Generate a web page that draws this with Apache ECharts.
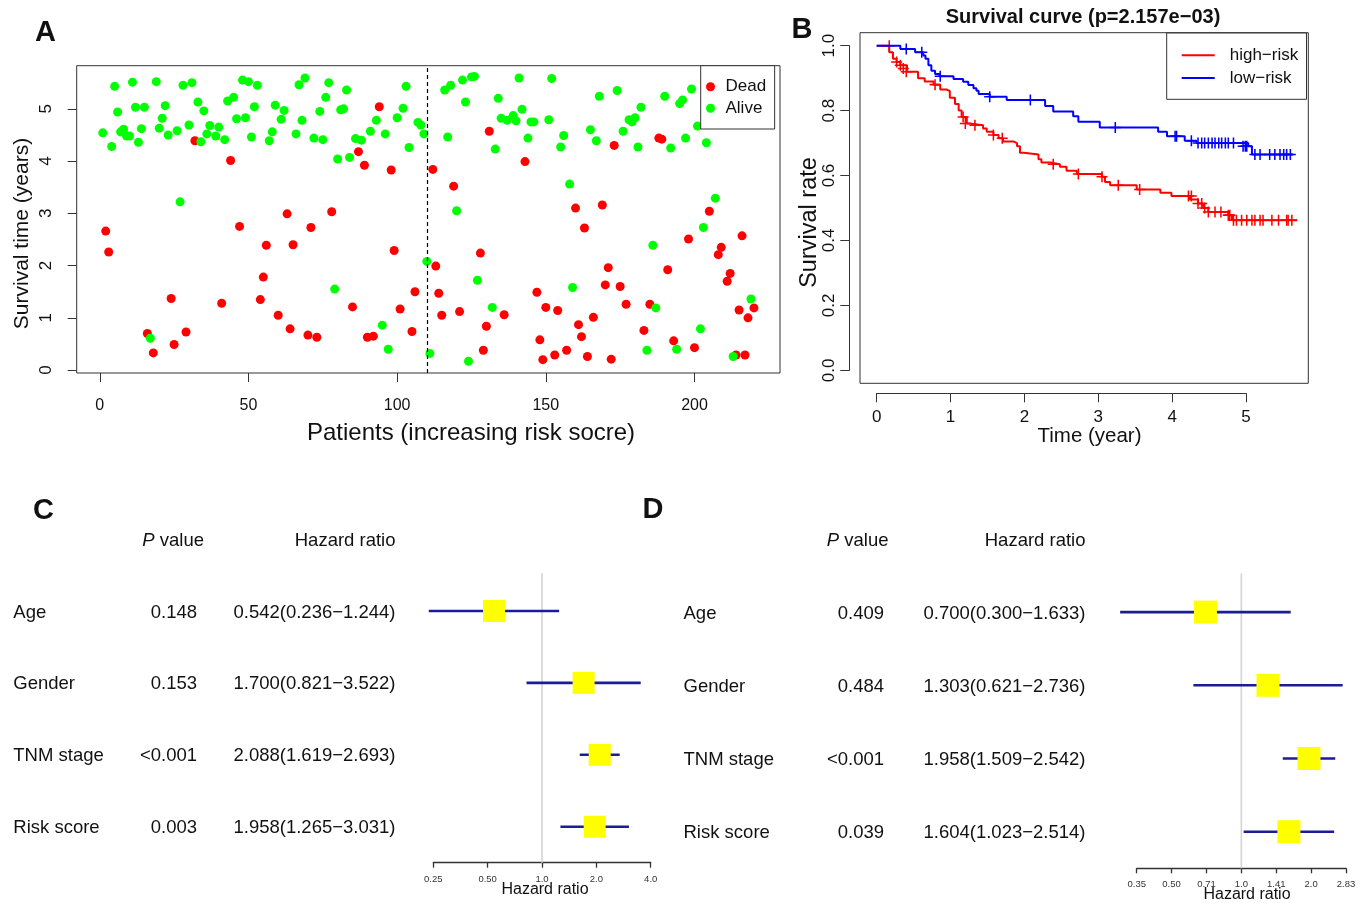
<!DOCTYPE html>
<html><head><meta charset="utf-8">
<script src="https://cdn.jsdelivr.net/npm/echarts@6/dist/echarts.min.js"></script>
<style>html,body{margin:0;padding:0;background:#fff}#chart{width:1364px;height:903px}</style>
</head><body><div id="chart"></div>
<script>
// ---------------- Panel A: [patient rank, survival time (years)] ----------------
const deadPoints = [
[2,2.66],[3,2.26],[16,0.70],[18,0.33],[24,1.37],[25,0.49],[29,0.73],[32,4.39],[41,1.28],[44,4.01],
[47,2.75],[54,1.35],[55,1.78],[56,2.39],[60,1.05],[63,2.99],[64,0.79],[65,2.40],[70,0.67],[71,2.73],
[73,0.63],[78,3.03],[85,1.21],[87,4.18],[89,3.92],[90,0.63],[92,0.65],[94,5.04],[98,3.83],[99,2.29],
[101,1.17],[105,0.74],[106,1.50],[112,3.84],[113,1.99],[114,1.47],[115,1.05],[119,3.52],[121,1.12],[128,2.24],
[129,0.38],[130,0.84],[131,4.57],[136,1.06],[143,3.99],[147,1.49],[148,0.58],[149,0.20],[150,1.20],[153,0.29],
[154,1.14],[157,0.38],[160,3.10],[161,0.87],[162,0.64],[163,2.72],[164,0.26],[166,1.01],[169,3.16],[170,1.63],
[171,1.96],[172,0.21],[173,4.30],[175,1.60],[177,1.26],[183,0.76],[185,1.26],[188,4.44],[189,4.42],[191,1.92],
[193,0.56],[198,2.51],[200,0.43],[205,3.04],[208,2.21],[209,2.35],[211,1.70],[212,1.85],[214,0.29],[215,1.15],
[216,2.57],[217,0.29],[218,1.00],[220,1.19]
];
const alivePoints = [
[1,4.54],[4,4.28],[5,5.43],[6,4.94],[7,4.56],[8,4.61],[9,4.48],[10,4.48],[11,5.51],[12,5.03],
[13,4.36],[14,4.62],[15,5.03],[17,0.61],[19,5.52],[20,4.63],[21,4.82],[22,5.06],[23,4.50],[26,4.58],
[27,3.22],[28,5.45],[30,4.69],[31,5.50],[33,5.13],[34,4.37],[35,4.96],[36,4.52],[37,4.68],[39,4.48],
[40,4.65],[42,4.41],[43,5.15],[45,5.22],[46,4.81],[48,5.55],[49,4.83],[50,5.52],[51,4.46],[52,5.04],
[53,5.45],[57,4.39],[58,4.56],[59,5.07],[61,4.80],[62,4.97],[66,4.52],[67,5.46],[68,4.78],[69,5.59],
[72,4.44],[74,4.95],[75,4.41],[76,5.22],[77,5.50],[79,1.55],[80,4.04],[81,4.98],[82,5.00],[83,5.36],
[84,4.07],[86,4.43],[88,4.40],[91,4.57],[93,4.78],[95,0.86],[96,4.52],[97,0.40],[100,4.83],[102,5.01],
[103,5.43],[104,4.26],[107,4.74],[108,4.69],[109,4.52],[110,2.08],[111,0.32],[116,5.36],[117,4.46],[118,5.45],
[120,3.05],[122,5.55],[123,5.13],[124,0.17],[125,5.61],[126,5.62],[127,1.72],[132,1.20],[133,4.23],[134,5.20],
[135,4.82],[137,4.78],[139,4.87],[140,4.77],[141,5.59],[142,4.99],[144,4.44],[145,4.75],[146,4.75],[151,4.79],
[152,5.58],[155,4.27],[156,4.49],[158,3.56],[159,1.58],[165,4.60],[167,4.39],[168,5.24],[174,5.35],[176,4.57],
[178,4.79],[179,4.75],[180,4.83],[181,4.27],[182,5.03],[184,0.38],[186,2.39],[187,1.19],[190,5.24],[192,4.25],
[194,0.40],[195,5.10],[196,5.17],[197,4.44],[199,5.38],[201,4.67],[202,0.79],[203,2.73],[204,4.35],[207,3.29],
[213,0.26],[219,1.36]
];
const riskCutoff = 110;
const patientTicks = [0, 50, 100, 150, 200];
const yearTicks = [0, 1, 2, 3, 4, 5];

// ---------------- Panel B: Kaplan-Meier steps [time (year), survival] ----------------
const highRiskCurve = [
[0,1.0],[0.17,0.98],[0.22,0.96],[0.27,0.95],[0.32,0.94],[0.41,0.92],[0.56,0.90],[0.65,0.89],[0.77,0.88],[0.86,0.865],
[0.95,0.86],[0.99,0.84],[1.06,0.82],[1.11,0.80],[1.15,0.78],[1.22,0.76],[1.26,0.755],[1.44,0.745],[1.49,0.735],[1.58,0.725],
[1.65,0.715],[1.71,0.705],[1.85,0.70],[1.90,0.69],[1.94,0.67],[1.99,0.665],[2.19,0.65],[2.23,0.64],[2.35,0.635],[2.48,0.627],
[2.57,0.615],[2.71,0.605],[3.05,0.596],[3.09,0.58],[3.16,0.57],[3.52,0.557],[3.84,0.547],[3.99,0.537],[4.24,0.526],[4.35,0.514],
[4.42,0.50],[4.49,0.488],[4.76,0.478],[4.81,0.462],[5.69,0.462]
];
const lowRiskCurve = [
[0,1.0],[0.32,0.99],[0.52,0.98],[0.63,0.97],[0.66,0.96],[0.70,0.94],[0.74,0.923],[0.79,0.913],[0.85,0.906],[1.04,0.897],
[1.17,0.889],[1.24,0.879],[1.31,0.869],[1.35,0.861],[1.38,0.851],[1.53,0.843],[1.76,0.833],[2.28,0.814],[2.39,0.797],[2.66,0.783],
[2.73,0.766],[3.02,0.748],[3.81,0.735],[3.93,0.721],[4.17,0.707],[4.33,0.70],[5.03,0.69],[5.08,0.665],[5.64,0.665]
];
const highRiskCensor = [
[0.17,1.0],[0.27,0.95],[0.32,0.94],[0.36,0.93],[0.40,0.92],[0.79,0.88],[1.17,0.78],[1.20,0.76],[1.33,0.755],[1.58,0.725],
[1.70,0.715],[2.39,0.635],[2.73,0.605],[3.05,0.596],[3.27,0.57],[3.56,0.557],[4.22,0.537],[4.26,0.537],[4.35,0.514],[4.40,0.514],
[4.44,0.50],[4.49,0.488],[4.58,0.488],[4.66,0.488],[4.76,0.478],[4.78,0.478],[4.83,0.462],[4.87,0.462],[4.94,0.462],[5.01,0.462],
[5.08,0.462],[5.12,0.462],[5.19,0.462],[5.23,0.462],[5.35,0.462],[5.44,0.462],[5.55,0.462],[5.57,0.462],[5.62,0.462]
];
const lowRiskCensor = [
[0.40,0.99],[0.61,0.98],[0.86,0.906],[1.53,0.843],[2.08,0.833],[3.23,0.748],[4.04,0.721],[4.06,0.721],[4.26,0.707],[4.35,0.70],
[4.40,0.70],[4.44,0.70],[4.49,0.70],[4.54,0.70],[4.58,0.70],[4.63,0.70],[4.67,0.70],[4.72,0.70],[4.76,0.70],[4.83,0.70],
[4.96,0.69],[4.99,0.69],[5.01,0.69],[5.12,0.665],[5.19,0.665],[5.32,0.665],[5.39,0.665],[5.46,0.665],[5.51,0.665],[5.55,0.665],[5.60,0.665]
];
const timeTicks = [0, 1, 2, 3, 4, 5];
const survTicks = [0, 0.2, 0.4, 0.6, 0.8, 1.0];
const survTickLabels = ['0.0', '0.2', '0.4', '0.6', '0.8', '1.0'];

// ---------------- Panel C: univariate Cox ----------------
const variablesC = ['Age', 'Gender', 'TNM stage', 'Risk score'];
const pValuesC = ['0.148', '0.153', '<0.001', '0.003'];
const hrC = [0.542, 1.700, 2.088, 1.958];
const hrLowC = [0.236, 0.821, 1.619, 1.265];
const hrHighC = [1.244, 3.522, 2.693, 3.031];
const hrTicksC = [0.25, 0.5, 1, 2, 4];
const hrTickLabelsC = ['0.25', '0.50', '1.0', '2.0', '4.0'];

// ---------------- Panel D: multivariate Cox ----------------
const variablesD = ['Age', 'Gender', 'TNM stage', 'Risk score'];
const pValuesD = ['0.409', '0.484', '<0.001', '0.039'];
const hrD = [0.700, 1.303, 1.958, 1.604];
const hrLowD = [0.300, 0.621, 1.509, 1.023];
const hrHighD = [1.633, 2.736, 2.542, 2.514];
const hrTicksD = [0.3536, 0.5, 0.7071, 1, 1.4142, 2, 2.8284];
const hrTickLabelsD = ['0.35', '0.50', '0.71', '1.0', '1.41', '2.0', '2.83'];

// ================= layout & styling =================
const FONT = '"Liberation Sans", Arial, Helvetica, sans-serif';
const INK = '#111';
const AXC = '#333';
const gA = {left: 76.7, top: 65.7, width: 703.3, height: 307.3};
const xRangeA = [-7.76, 228.76], yRangeA = [-0.055, 5.825];
const gB = {left: 860, top: 32.7, width: 448.3, height: 350.6};
const xRangeB = [-0.226, 5.843], yRangeB = [-0.04, 1.04];
function subGrid(g, xr, yr, x0, x1, y0, y1) {
  const fx = v => g.left + (v - xr[0]) / (xr[1] - xr[0]) * g.width;
  const fy = v => g.top + (yr[1] - v) / (yr[1] - yr[0]) * g.height;
  return {left: fx(x0), width: fx(x1) - fx(x0), top: fy(y1), height: fy(y0) - fy(y1)};
}
const gBax = subGrid(gB, xRangeB, yRangeB, timeTicks[0], timeTicks[timeTicks.length - 1], survTicks[0], survTicks[survTicks.length - 1]);
const gC = {left: 433.3, top: 575, width: 217.4, height: 287.7};
const gD = {left: 1136.7, top: 575.5, width: 209.3, height: 292.8};
const forestCols = {
  C: {label: 13.3, p: 197, hr: 395.5, pHead: 204, hrHead: 395.5},
  D: {label: 683.5, p: 884, hr: 1085.5, pHead: 888.5, hrHead: 1085.5}
};

function labelFor(ticks, labels) {
  return function (v) {
    let best = 0;
    for (let i = 1; i < ticks.length; i++) if (Math.abs(ticks[i] - v) < Math.abs(ticks[best] - v)) best = i;
    return labels[best];
  };
}
const fmt3 = v => v.toFixed(3);

function forestAxis(gridIndex, ticks, labels, margin) {
  return {
    gridIndex, type: 'log', logBase: 2, min: ticks[0], max: ticks[ticks.length - 1],
    axisLine: {show: true, onZero: false, lineStyle: {color: AXC, width: 1.3}},
    axisTick: {show: true, customValues: ticks, length: 5, lineStyle: {color: AXC, width: 1.3}},
    axisLabel: {customValues: ticks, formatter: labelFor(ticks, labels), fontSize: 9.5, color: '#333', fontFamily: FONT, margin},
    splitLine: {show: false}
  };
}

function forestSeries(gridIndex, names, pv, hr, lo, hi, cols, boxSize) {
  const idx = names.map((n, i) => i);
  return [
    { // reference line at HR = 1
      type: 'custom', xAxisIndex: gridIndex, yAxisIndex: gridIndex, z: 1, silent: true,
      data: [[1, 0]],
      renderItem: function (params, api) {
        const x = api.coord([api.value(0), 0])[0];
        const cs = params.coordSys;
        return {type: 'line', shape: {x1: x, y1: cs.y - 2, x2: x, y2: cs.y + cs.height},
          style: {stroke: '#d4d4d4', lineWidth: 1.6}};
      }
    },
    { // CI lines and boxes
      type: 'custom', xAxisIndex: gridIndex, yAxisIndex: gridIndex, z: 3, silent: true,
      data: idx.map(i => [hr[i], lo[i], hi[i], i]),
      encode: {x: 0, y: 3},
      renderItem: function (params, api) {
        const row = api.value(3);
        const c = api.coord([api.value(0), row]);
        const l = api.coord([api.value(1), row]);
        const h = api.coord([api.value(2), row]);
        return {type: 'group', children: [
          {type: 'line', shape: {x1: l[0], y1: c[1], x2: h[0], y2: c[1]}, style: {stroke: '#1c1c96', lineWidth: 2.6}},
          {type: 'rect', shape: {x: c[0] - boxSize / 2, y: c[1] - boxSize / 2, width: boxSize, height: boxSize}, style: {fill: '#ffff00'}}
        ]};
      }
    },
    { // table text
      type: 'custom', xAxisIndex: gridIndex, yAxisIndex: gridIndex, z: 3, silent: true,
      data: idx.map(i => [1, i]),
      renderItem: function (params, api) {
        const i = params.dataIndex;
        const y = api.coord([1, api.value(1)])[1] + 1.5;
        const st = (text, align) => ({text, fontSize: 18.5, fontFamily: FONT, fill: INK, align, verticalAlign: 'middle'});
        return {type: 'group', children: [
          {type: 'text', x: cols.label, y, style: st(names[i], 'left')},
          {type: 'text', x: cols.p, y, style: st(pv[i], 'right')},
          {type: 'text', x: cols.hr, y, style: st(fmt3(hr[i]) + '(' + fmt3(lo[i]) + '\u2212' + fmt3(hi[i]) + ')', 'right')}
        ]};
      }
    }
  ];
}

const plusPath = 'path://M4.3,0H5.7V4.3H10V5.7H5.7V10H4.3V5.7H0V4.3H4.3Z';

function txt(text, x, y, size, opts) {
  opts = opts || {};
  return {type: 'text', x, y, rotation: opts.rot || 0, silent: true, z: 10,
    style: {text, fontSize: size, fontFamily: FONT, fontWeight: opts.bold ? 'bold' : 'normal',
      fill: INK, align: opts.align || 'center', verticalAlign: 'middle', rich: opts.rich}};
}

const option = {
  animation: false,
  backgroundColor: '#fff',
  grid: [
    Object.assign({show: true, borderColor: AXC, borderWidth: 1, backgroundColor: 'transparent'}, gA),
    Object.assign({show: true, borderColor: AXC, borderWidth: 1, backgroundColor: 'transparent'}, gB),
    Object.assign({}, gBax),
    Object.assign({}, gC),
    Object.assign({}, gD)
  ],
  xAxis: [
    {gridIndex: 0, type: 'value', min: xRangeA[0], max: xRangeA[1],
      axisLine: {show: false, onZero: false}, splitLine: {show: false},
      axisTick: {show: true, customValues: patientTicks, length: 9, lineStyle: {color: AXC}},
      axisLabel: {customValues: patientTicks, fontSize: 16, color: INK, fontFamily: FONT, margin: 25}},
    {gridIndex: 1, type: 'value', min: xRangeB[0], max: xRangeB[1], show: false},
    {gridIndex: 2, type: 'value', min: timeTicks[0], max: timeTicks[timeTicks.length - 1], interval: 1, offset: 23,
      axisLine: {show: true, onZero: false, lineStyle: {color: AXC}}, splitLine: {show: false},
      axisTick: {show: true, customValues: timeTicks, length: 9, lineStyle: {color: AXC}},
      axisLabel: {customValues: timeTicks, fontSize: 17, color: INK, fontFamily: FONT, margin: 15}},
    forestAxis(3, hrTicksC, hrTickLabelsC, 12),
    forestAxis(4, hrTicksD, hrTickLabelsD, 11)
  ],
  yAxis: [
    {gridIndex: 0, type: 'value', min: yRangeA[0], max: yRangeA[1],
      axisLine: {show: false, onZero: false}, splitLine: {show: false},
      axisTick: {show: true, customValues: yearTicks, length: 9, lineStyle: {color: AXC}},
      axisLabel: {customValues: yearTicks, rotate: 90, fontSize: 17, color: INK, fontFamily: FONT, margin: 22}},
    {gridIndex: 1, type: 'value', min: yRangeB[0], max: yRangeB[1], show: false},
    {gridIndex: 2, type: 'value', min: survTicks[0], max: survTicks[survTicks.length - 1], offset: 27.4,
      axisLine: {show: true, onZero: false, lineStyle: {color: AXC}}, splitLine: {show: false},
      axisTick: {show: true, customValues: survTicks, length: 9, lineStyle: {color: AXC}},
      axisLabel: {customValues: survTicks, formatter: labelFor(survTicks, survTickLabels), rotate: 90,
        fontSize: 17, color: INK, fontFamily: FONT, margin: 11}},
    {gridIndex: 3, type: 'category', data: variablesC, inverse: true, show: false},
    {gridIndex: 4, type: 'category', data: variablesD, inverse: true, show: false}
  ],
  legend: [
    {data: ['Dead', 'Alive'], orient: 'vertical', left: 700.7, top: 65.7,
      padding: [12.5, 8.5, 12.2, 5.3], itemGap: 4.6, itemWidth: 20, itemHeight: 9, icon: 'circle',
      borderColor: AXC, borderWidth: 1, backgroundColor: '#fff', selectedMode: false,
      textStyle: {fontSize: 17, fontFamily: FONT, color: INK}},
    {data: ['high\u2212risk', 'low\u2212risk'], orient: 'vertical', left: 1166.7, top: 33,
      padding: [13.8, 8.3, 12.8, 15], itemGap: 5.7, itemWidth: 33, itemHeight: 2, icon: 'rect',
      borderColor: AXC, borderWidth: 1, backgroundColor: '#fff', selectedMode: false,
      textStyle: {fontSize: 17, fontFamily: FONT, color: INK, padding: [0, 0, 0, 10]}}
  ],
  series: [
    {name: 'Dead', type: 'scatter', xAxisIndex: 0, yAxisIndex: 0, data: deadPoints, symbolSize: 9,
      itemStyle: {color: '#ff0000', opacity: 1}, z: 2,
      markLine: {silent: true, symbol: ['none', 'none'], label: {show: false},
        lineStyle: {type: [4, 3], color: '#000', width: 1.2}, data: [{xAxis: riskCutoff}]}},
    {name: 'Alive', type: 'scatter', xAxisIndex: 0, yAxisIndex: 0, data: alivePoints, symbolSize: 9,
      itemStyle: {color: '#00ff00', opacity: 1}, z: 3},
    {name: 'high\u2212risk', type: 'line', xAxisIndex: 1, yAxisIndex: 1, data: highRiskCurve, step: 'end',
      showSymbol: false, color: '#ff0000', lineStyle: {color: '#ff0000', width: 2}, z: 2},
    {name: 'low\u2212risk', type: 'line', xAxisIndex: 1, yAxisIndex: 1, data: lowRiskCurve, step: 'end',
      showSymbol: false, color: '#0000ff', lineStyle: {color: '#0000ff', width: 2}, z: 3},
    {name: 'high-risk censored', type: 'scatter', xAxisIndex: 1, yAxisIndex: 1, data: highRiskCensor,
      symbol: plusPath, symbolSize: 11, itemStyle: {color: '#ff0000', opacity: 1}, z: 2},
    {name: 'low-risk censored', type: 'scatter', xAxisIndex: 1, yAxisIndex: 1, data: lowRiskCensor,
      symbol: plusPath, symbolSize: 11, itemStyle: {color: '#0000ff', opacity: 1}, z: 3}
  ].concat(
    forestSeries(3, variablesC, pValuesC, hrC, hrLowC, hrHighC, forestCols.C, 22),
    forestSeries(4, variablesD, pValuesD, hrD, hrLowD, hrHighD, forestCols.D, 23)
  ),
  graphic: [
    txt('A', 45.5, 33, 29, {bold: true}),
    txt('B', 802, 30, 29, {bold: true}),
    txt('C', 43.5, 511, 29, {bold: true}),
    txt('D', 653, 510, 29, {bold: true}),
    txt('Patients (increasing risk socre)', 471, 433, 24),
    txt('Survival time (years)', 22, 233.5, 21, {rot: Math.PI / 2}),
    txt('Survival curve (p=2.157e\u221203)', 1083, 17, 20, {bold: true}),
    txt('Time (year)', 1089.5, 436.7, 20.5),
    txt('Survival rate', 810, 222.5, 23.5, {rot: Math.PI / 2}),
    txt('{i|P} value', forestCols.C.pHead, 540.5, 18.5, {align: 'right', rich: {i: {fontStyle: 'italic', fontSize: 18.5, fontFamily: FONT}}}),
    txt('Hazard ratio', forestCols.C.hrHead, 540.5, 18.5, {align: 'right'}),
    txt('{i|P} value', forestCols.D.pHead, 540.5, 18.5, {align: 'right', rich: {i: {fontStyle: 'italic', fontSize: 18.5, fontFamily: FONT}}}),
    txt('Hazard ratio', forestCols.D.hrHead, 540.5, 18.5, {align: 'right'}),
    txt('Hazard ratio', 545, 890, 16),
    txt('Hazard ratio', 1247, 895, 16)
  ]
};

const chart = echarts.init(document.getElementById('chart'), null, {renderer: 'canvas'});
chart.setOption(option);
</script>
</body></html>
